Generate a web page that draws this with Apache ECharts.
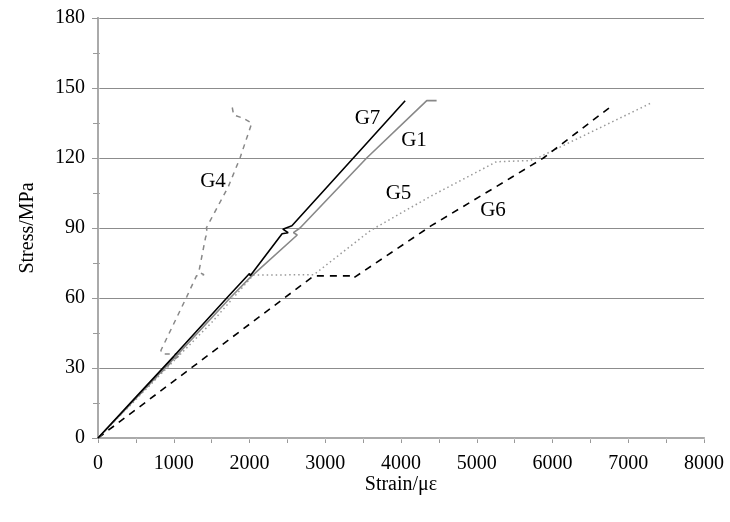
<!DOCTYPE html>
<html>
<head>
<meta charset="utf-8">
<script src="https://cdn.jsdelivr.net/npm/echarts@6/dist/echarts.min.js"></script>
<style>
  html, body { margin: 0; padding: 0; background: #fff; }
  #main { width: 730px; height: 522px; }
</style>
</head>
<body>
<div id="main"></div>
<script>
// strain (µε), stress (MPa)
const g7 = [[0, 0], [500, 17.5], [1000, 35], [1700, 60], [2000, 70.5], [2010, 69.5], [2430, 87.5],
  [2510, 88], [2440, 89.5], [2560, 91], [3371, 120], [4055, 144.5]];
const g1 = [[0, 0], [1000, 34], [1743, 60], [2000, 68.5], [2630, 87], [2580, 88], [2667, 90],
  [3547, 120], [4340, 144.6], [4470, 144.6]];
const g4 = [[0, 0], [500, 17], [1000, 33.5], [1100, 36], [850, 36], [830, 37.5], [1171, 60.5],
  [1300, 69.5], [1400, 70], [1330, 71], [1420, 86], [1445, 88], [1430, 90], [1720, 107.7],
  [1875, 120], [2030, 135], [1920, 137], [1790, 138.5], [1765, 143]];
const g5 = [[0, 0], [1000, 33], [1500, 49.5], [2050, 69.8], [2850, 70], [3600, 89], [4380, 103.4],
  [5260, 118.4], [5700, 118.9], [5840, 120.6], [7310, 143.7]];
const g6 = [[0, 0], [2850, 69.5], [3350, 69.5], [3370, 68.5], [4400, 91], [5440, 111.3],
  [5880, 120], [6790, 142.5]];

const seriesNames = ['G7', 'G1', 'G4', 'G5', 'G6'];
const labelPos = [[3558, 137], [4172, 127.7], [1518, 110], [3967, 104.8], [5215, 97.5]];

const font = '"Liberation Serif", "DejaVu Serif", serif';
const chart = echarts.init(document.getElementById('main'));

function makeSeries(i, data, color, type, width) {
  return {
    name: seriesNames[i],
    type: 'line',
    data: data,
    showSymbol: false,
    symbol: 'none',
    animation: false,
    lineStyle: { color: color, type: type, width: width },
    markPoint: {
      symbol: 'circle',
      symbolSize: 1,
      itemStyle: { color: 'rgba(0,0,0,0)' },
      label: {
        show: true, position: 'inside', formatter: seriesNames[i],
        color: '#000', fontSize: 21, fontFamily: font
      },
      data: [{ coord: labelPos[i] }]
    }
  };
}

chart.setOption({
  animation: false,
  grid: { left: 98, right: 26, top: 18, bottom: 84 },
  xAxis: [{
    type: 'value', min: 0, max: 8000, interval: 1000,
    name: 'Strain/με', nameLocation: 'middle', nameGap: 37, nameMoveOverlap: false,
    nameTextStyle: { fontSize: 20, fontFamily: font, color: '#000' },
    axisLine: { lineStyle: { color: '#aaa', width: 2 } },
    axisTick: { length: 5, lineStyle: { color: '#999' } },
    minorTick: { show: true, splitNumber: 2, length: 5, lineStyle: { color: '#999' } },
    axisLabel: { fontSize: 20, fontFamily: font, color: '#000', margin: 16, formatter: v => String(v) },
    splitLine: { show: false }
  }, {
    type: 'value', min: 0, max: 8000, interval: 500, position: 'top',
    axisLine: { show: true, lineStyle: { color: '#aaa', width: 1.5 } },
    axisTick: { show: true, inside: true, length: 2, lineStyle: { color: '#bbb' } },
    axisLabel: { show: false },
    splitLine: { show: false }
  }],
  yAxis: [{
    type: 'value', min: 0, max: 180, interval: 30,
    name: 'Stress/MPa', nameLocation: 'middle', nameGap: 60,
    nameTextStyle: { fontSize: 20, fontFamily: font, color: '#000' },
    axisLine: { show: true, lineStyle: { color: '#aaa', width: 2 } },
    axisTick: { show: true, length: 6, lineStyle: { color: '#999' } },
    minorTick: { show: true, splitNumber: 2, length: 5, lineStyle: { color: '#999' } },
    axisLabel: { fontSize: 20, fontFamily: font, color: '#000', margin: 13 },
    splitLine: { show: true, lineStyle: { color: '#8c8c8c', width: 1.2 } }
  }, {
    type: 'value', min: 0, max: 180, interval: 15, position: 'right',
    axisLine: { show: true, lineStyle: { color: '#aaa', width: 2 } },
    axisTick: { show: true, length: 2, lineStyle: { color: '#aaa' } },
    axisLabel: { show: false },
    splitLine: { show: false }
  }],
  series: [
    makeSeries(3, g5, '#999', [1.5, 3], 1.5),
    makeSeries(4, g6, '#000', [7, 6], 1.6),
    makeSeries(2, g4, '#888', [5, 5], 1.5),
    makeSeries(1, g1, '#888', 'solid', 1.6),
    makeSeries(0, g7, '#000', 'solid', 1.6)
  ]
});
</script>
</body>
</html>
